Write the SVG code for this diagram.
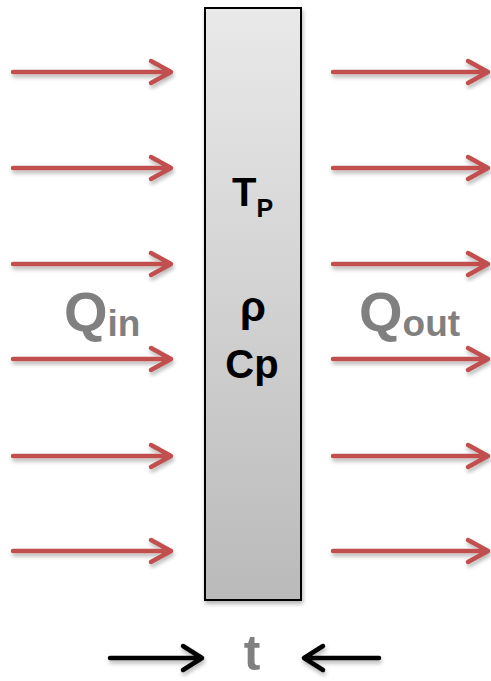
<svg xmlns="http://www.w3.org/2000/svg" width="491" height="681" viewBox="0 0 491 681">
<style>
.red{stroke:#c0504d;stroke-width:4.5;fill:none;stroke-linecap:round;stroke-linejoin:round}
.blk{stroke:#000;stroke-width:4.5;fill:none;stroke-linecap:round;stroke-linejoin:round}
.lbl{font-family:"Liberation Sans",Arial,sans-serif;font-weight:bold;fill:#808080}
.in{font-family:"Liberation Sans",Arial,sans-serif;font-weight:bold;fill:#000}
</style>
<defs>
<linearGradient id="g" x1="0" y1="0" x2="0" y2="1">
<stop offset="0" stop-color="#e9e9e9"/>
<stop offset="1" stop-color="#bababa"/>
</linearGradient>
<filter id="sh" x="-10%" y="-10%" width="130%" height="140%">
<feGaussianBlur in="SourceAlpha" stdDeviation="2"/>
<feOffset dx="1" dy="3"/>
<feComponentTransfer><feFuncA type="linear" slope="0.3"/></feComponentTransfer>
<feMerge><feMergeNode/><feMergeNode in="SourceGraphic"/></feMerge>
</filter>
</defs>
<g id="plate" filter="url(#sh)">
<rect x="205" y="8" width="96" height="592" fill="url(#g)" stroke="#000" stroke-width="2"/>
</g>
<g id="labels-plate">
<text class="in" x="232" y="206" font-size="40">T<tspan font-size="25" dy="11">P</tspan></text>
<text class="in" x="253" y="321" font-size="42" text-anchor="middle">ρ</text>
<text class="in" x="252" y="378" font-size="40" text-anchor="middle">Cp</text>
</g>
<g id="qin"><text class="lbl" x="64" y="331" font-size="56">Q<tspan font-size="37" dy="5">in</tspan></text></g>
<g id="qout"><text class="lbl" x="359" y="331" font-size="56">Q<tspan font-size="37" dy="5">out</tspan></text></g>
<g id="t-label"><text class="lbl" x="252" y="670" font-size="50" text-anchor="middle">t</text></g>
<g id="connectors" filter="url(#sh)">
<g class="red">
<path d="M13 72H171M151 61L171 72L151 83"/>
<path d="M13 168H171M151 157L171 168L151 179"/>
<path d="M13 264H171M151 253L171 264L151 275"/>
<path d="M13 359H171M151 348L171 359L151 370"/>
<path d="M13 456H171M151 445L171 456L151 467"/>
<path d="M13 551H171M151 540L171 551L151 562"/>
<path d="M333 72H488M468 61L488 72L468 83"/>
<path d="M333 168H488M468 157L488 168L468 179"/>
<path d="M333 264H488M468 253L488 264L468 275"/>
<path d="M333 359H488M468 348L488 359L468 370"/>
<path d="M333 456H488M468 445L488 456L468 467"/>
<path d="M333 551H488M468 540L488 551L468 562"/>
</g>
<g class="blk">
<path d="M110 658H202M183 646L202 658L183 670"/>
<path d="M379 658H304M323 646L304 658L323 670"/>
</g>
</g>
</svg>
